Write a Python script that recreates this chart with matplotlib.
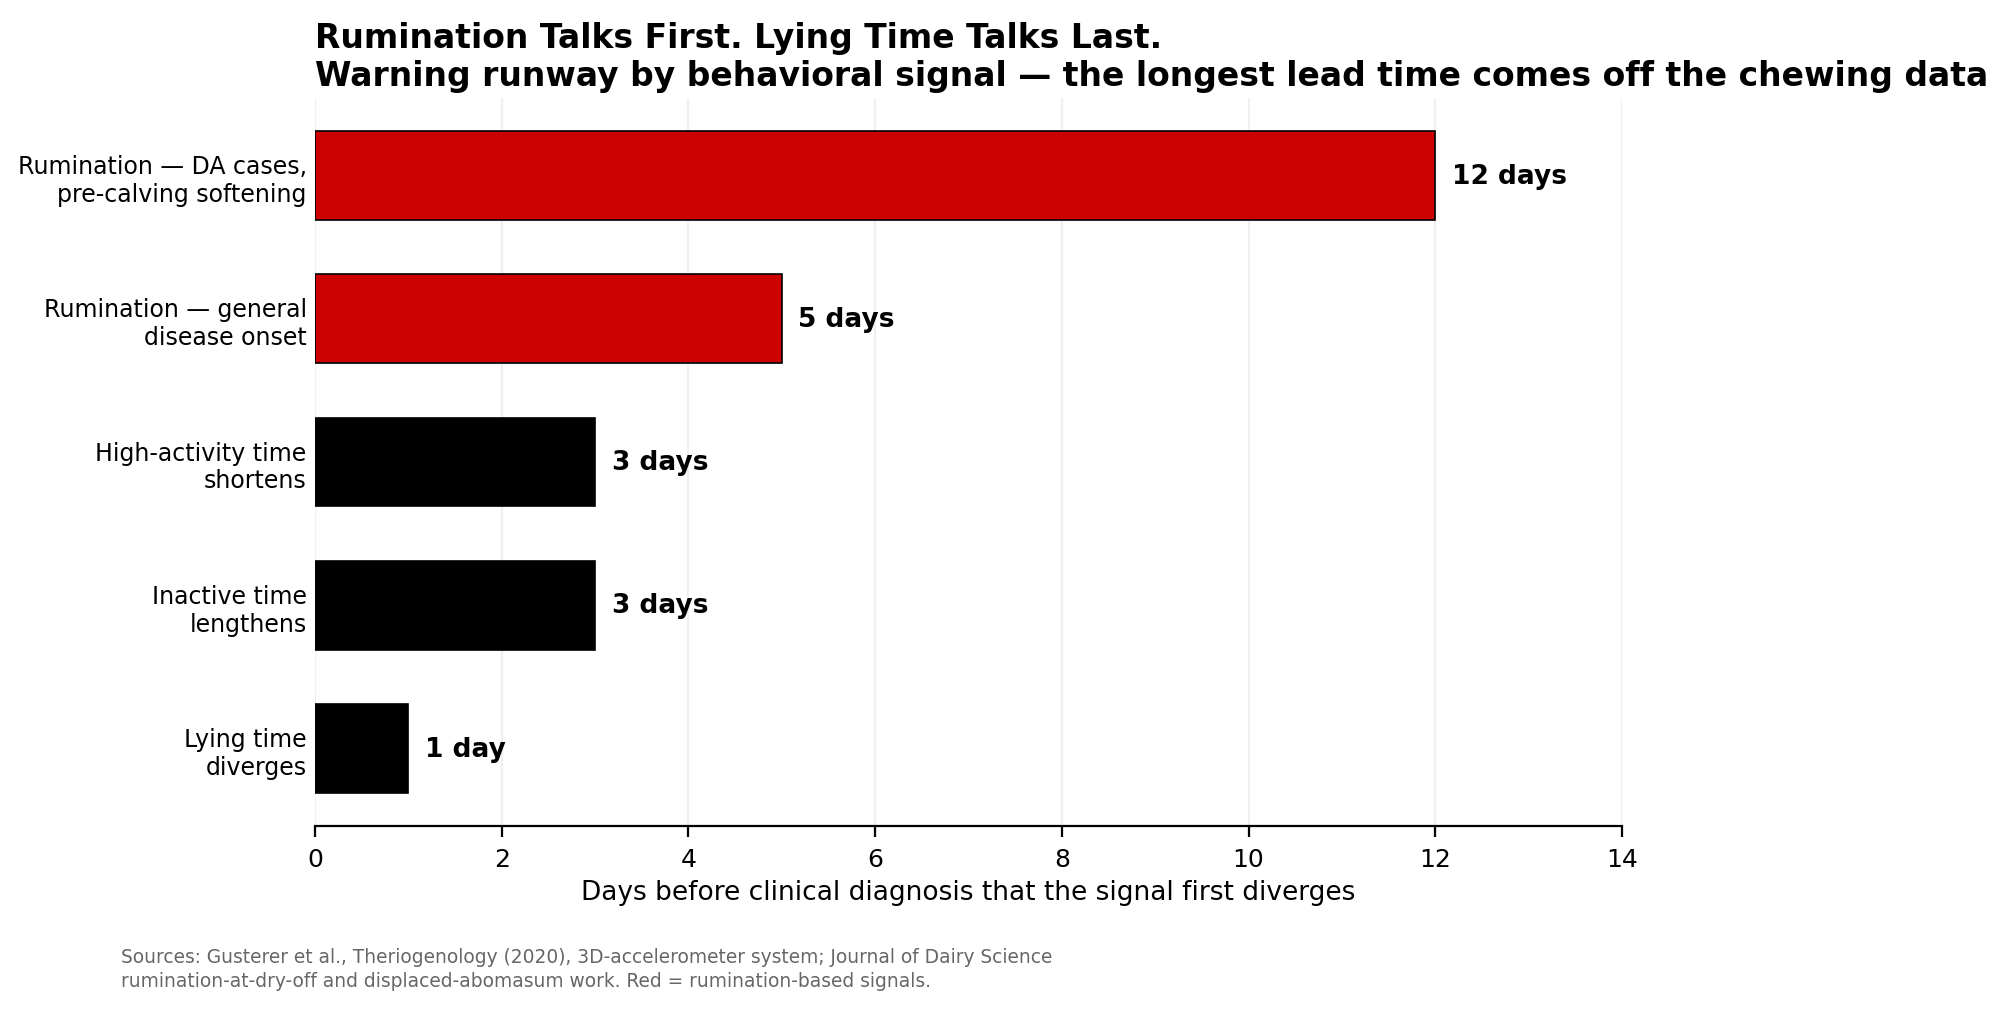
import matplotlib
matplotlib.use("Agg")
import matplotlib.pyplot as plt

categories = [
    "Rumination — DA cases,\npre-calving softening",
    "Rumination — general\ndisease onset",
    "High-activity time\nshortens",
    "Inactive time\nlengthens",
    "Lying time\ndiverges",
]
days = [12, 5, 3, 3, 1]
labels = ["12 days", "5 days", "3 days", "3 days", "1 day"]
is_rumination = [True, True, False, False, False]

RED = "#CC0000"
fig = plt.figure(figsize=(10, 5.06), dpi=200)
ax = fig.add_axes([0.1575, 0.1828, 0.6535, 0.7192])

ypos = list(range(len(categories)))
colors = [RED if r else "#000000" for r in is_rumination]
bars = ax.barh(ypos, days, height=0.62, color=colors, edgecolor="#000000", linewidth=0.6, zorder=3)
ax.invert_yaxis()
ax.set_yticks(ypos)
ax.set_yticklabels(categories, fontsize=8.5)
ax.tick_params(axis="y", length=0, pad=3)
ax.set_xlim(0, 14)
ax.set_xticks(range(0, 15, 2))
ax.tick_params(axis="x", labelsize=9, length=4, width=0.8)
ax.set_xlabel("Days before clinical diagnosis that the signal first diverges", fontsize=9.5, labelpad=3)
ax.grid(axis="x", color="#f0f0f0", linewidth=0.8, zorder=0)
for s in ["top", "right", "left"]:
    ax.spines[s].set_visible(False)
ax.spines["bottom"].set_linewidth(0.8)

for b, lab in zip(bars, labels):
    ax.annotate(lab, (b.get_width(), b.get_y() + b.get_height() / 2),
                xytext=(6, 0), textcoords="offset points",
                va="center", ha="left", fontsize=9.5, fontweight="bold")

fig.text(0.1575, 0.978, "Rumination Talks First. Lying Time Talks Last.\nWarning runway by behavioral signal — the longest lead time comes off the chewing data",
         ha="left", va="top", fontsize=11.9, fontweight="bold", linespacing=1.2)

fig.text(0.0605, 0.021, "Sources: Gusterer et al., Theriogenology (2020), 3D-accelerometer system; Journal of Dairy Science\nrumination-at-dry-off and displaced-abomasum work. Red = rumination-based signals.",
         ha="left", va="bottom", fontsize=6.7, color="#666666", linespacing=1.3)

fig.savefig("out.png", dpi=200)
